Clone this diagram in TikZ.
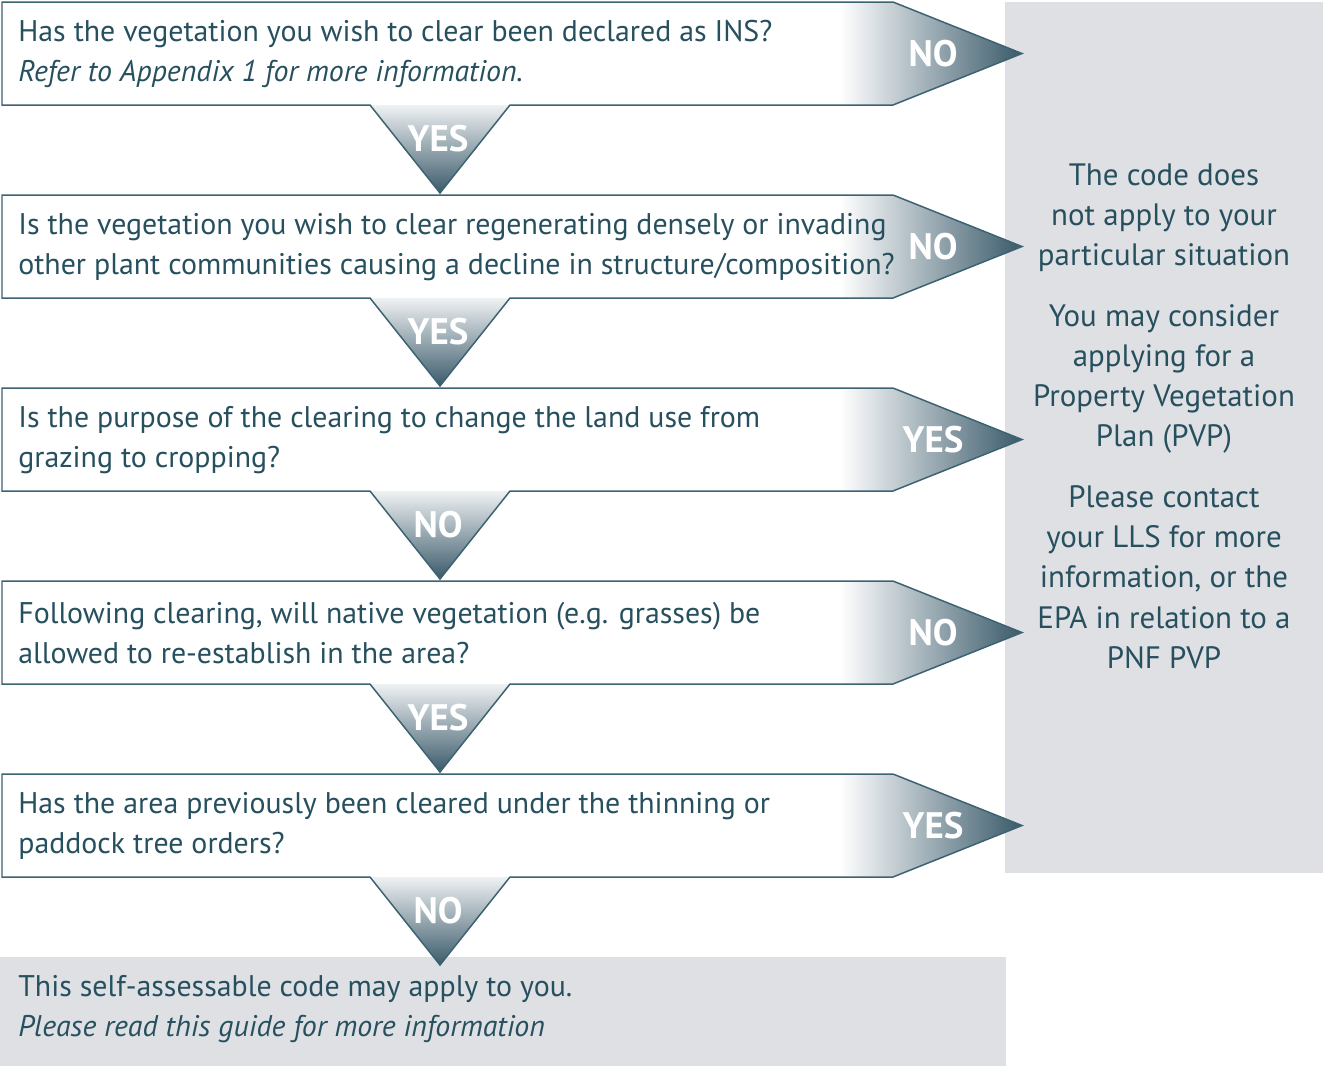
\documentclass[tikz,border=0pt]{standalone}
\usepackage{fontspec}
\setmainfont{PT Sans}
\usetikzlibrary{positioning}

\definecolor{slate}{HTML}{3A5A6A}
\definecolor{ink}{HTML}{27505F}
\definecolor{panelgrey}{HTML}{DFE0E4}
\definecolor{edge}{HTML}{3D6272}

% question box with its right arrow and the notch pointing down
\newcommand{\qpath}[1]{(2,#1) -- (893,#1) -- (1022,#1+51.5) -- (893,#1+103) -- (510,#1+103) -- (440,#1+191) -- (370,#1+103) -- (2,#1+103) -- cycle}

\begin{document}
\begin{tikzpicture}[
x=0.02cm, y=-0.02cm,
qtext/.style={anchor=west, align=left, inner sep=0pt, text=ink, font=\fontsize{17}{22.8}\selectfont},
infotext/.style={align=center, text=ink, font=\fontsize{17.6}{22.8}\selectfont},
answer/.style={text=white, font=\fontsize{21}{21}\selectfont\bfseries}
]
\useasboundingbox (0,0) rectangle (1323,1066);

% grey panels
\fill[panelgrey] (1005,2) rectangle (1323,873);
\fill[panelgrey] (0,957) rectangle (1006,1066);

% the five question shapes
\foreach \t/\r/\d [count=\i] in {2/NO/YES, 195/NO/YES, 388/YES/NO, 581/NO/YES, 774/YES/NO} {
  \fill[white] \qpath{\t};
  \begin{scope}
    \clip (2,\t) -- (893,\t) -- (1022,\t+51.5) -- (893,\t+103) -- (2,\t+103) -- cycle;
    \shade[left color=white, right color=slate] (840,\t) rectangle (1022,\t+103);
  \end{scope}
  \shade[top color=white!92!slate, bottom color=slate] (370,\t+103) -- (510,\t+103) -- (440,\t+191) -- cycle;
  \draw[edge, line width=0.85pt] \qpath{\t};
  \node[answer] (side\i) at (933,\t+51.5) {\r};
  \node[answer] (down\i) at (438,\t+137) {\d};
}

\node[qtext] (q1) at (18,54) {Has the vegetation you wish to clear been declared as INS?\\\textit{Refer to Appendix 1 for more information.}};
\node[qtext] (q2) at (18,247) {Is the vegetation you wish to clear regenerating densely or invading\\other plant communities causing a decline in structure/composition?};
\node[qtext] (q3) at (18,440) {Is the purpose of the clearing to change the land use from\\grazing to cropping?};
\node[qtext] (q4) at (18,633) {Following clearing, will native vegetation (e.g. grasses) be\\allowed to re-establish in the area?};
\node[qtext] (q5) at (18,826) {Has the area previously been cleared under the thinning or\\paddock tree orders?};

\node[qtext] (result) at (18,1009) {This self-assessable code may apply to you.\\\textit{Please read this guide for more information}};

\node[infotext] (info) at (1164,416) {The code does\\not apply to your\\particular situation\\[12pt]You may consider\\applying for a\\Property Vegetation\\Plan (PVP)\\[12pt]Please contact\\your LLS for more\\information, or the\\EPA in relation to a\\PNF PVP};

\end{tikzpicture}
\end{document}
